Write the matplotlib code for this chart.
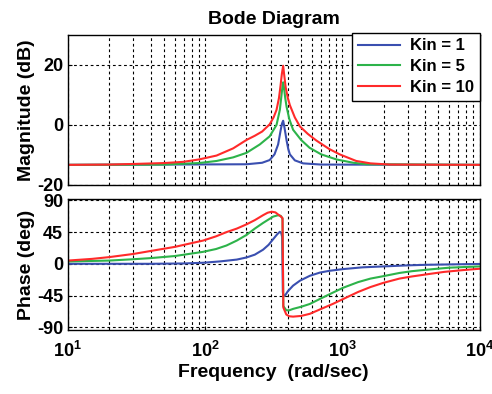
import matplotlib
matplotlib.use('Agg')
import matplotlib.pyplot as plt
from matplotlib.ticker import FixedLocator, FixedFormatter, LogLocator, NullFormatter

plt.rcParams['font.family'] = ['Liberation Sans', 'DejaVu Sans']
plt.rcParams['font.weight'] = 'bold'
plt.rcParams['axes.unicode_minus'] = False
plt.rcParams['mathtext.fontset'] = 'custom'
plt.rcParams['mathtext.rm'] = 'Liberation Sans:bold'
plt.rcParams['mathtext.bf'] = 'Liberation Sans:bold'

# magnitude curves (rad/sec, dB)
w_mag_1 = [10, 200, 260, 295, 320, 340, 354, 363, 370, 377, 385, 392, 403, 414, 450, 517, 700, 10000]
mag_1 = [-13.3, -13.1, -12.6, -11.7, -9.8, -6.5, -2.0, 0.5, 1.4, -0.5, -3.0, -5.2, -8.0, -9.8, -11.8, -12.8, -13.2, -13.3]

w_mag_5 = [10, 50, 90, 121, 160, 200, 250, 295, 331, 350, 360, 366, 370, 375, 383, 392, 410, 437,
           500, 576, 700, 906, 1200, 1500, 10000]
mag_5 = [-13.3, -13.2, -12.7, -12.0, -10.8, -9.3, -6.5, -3.8, 0.0, 5.0, 10.0, 13.0, 14.2, 12.5, 9.0, 6.0, 2.0, -1.6,
         -5.0, -7.6, -9.8, -11.5, -12.6, -13.1, -13.3]

w_mag_10 = [10, 20, 30, 50, 69, 90, 121, 160, 200, 230, 260, 295, 315, 331, 345, 354, 362, 370, 378, 386,
            400, 414, 450, 490, 560, 646, 800, 955, 1260, 1600, 2213, 10000]
mag_10 = [-13.3, -13.2, -13.0, -12.7, -12.3, -11.5, -10.2, -7.8, -5.0, -3.6, -2.2, 0.2, 2.5, 5.0, 9.0, 13.0, 17.0, 19.7, 16.0, 12.5,
          9.0, 6.6, 2.5, -0.5, -3.0, -5.2, -8.0, -9.8, -12.0, -12.8, -13.2, -13.3]

# phase curves (rad/sec, deg)
w_ph_1 = [10, 39.5, 70, 96.6, 130, 170, 200, 230, 264, 290, 313, 335, 350, 358, 364, 368, 372, 385, 400,
          437, 490, 579, 684, 800, 1012, 1400, 1990, 3000, 4090, 10000]
ph_1 = [0, 0, 0.5, 1.5, 3.5, 6, 9, 13, 20, 27, 35, 42, 45.5, 44, 38, -40, -46, -44, -39,
        -31, -24, -17, -12.5, -10, -7.5, -5, -3.7, -2.2, -1.4, -0.2]

w_ph_5 = [10, 20, 30, 39.5, 60, 96.6, 120, 143, 170, 200, 230, 264, 290, 313, 340, 356, 366, 371, 390, 410,
          437, 500, 579, 700, 850, 1012, 1300, 1600, 1990, 2600, 3200, 4090, 6000, 10000]
ph_5 = [3.3, 4.6, 6.5, 8, 11, 17, 21, 26, 33, 41, 50, 58, 63, 67, 69, 68, 64, -60, -66, -66,
        -64, -61, -57, -49, -41, -34, -26, -21, -17.5, -13, -10.5, -8.4, -5.5, -3.7]

w_ph_10 = [10, 15, 20, 30, 39.5, 60, 96.6, 120, 143, 170, 200, 230, 264, 285, 305, 325, 340, 352, 366, 371,
           390, 410, 437, 500, 579, 700, 850, 1012, 1300, 1600, 1990, 2600, 3200, 4090, 5500, 7500, 10000]
ph_10 = [4.6, 7, 9.5, 14, 18, 24, 33, 39, 45, 50, 56, 62, 69, 72.5, 74, 73, 70, 68, 65, -62,
         -72, -74.5, -75, -74, -71, -64, -57, -50, -40, -33, -27, -21, -18, -15, -11.5, -9, -7]

labels = ['Kin = 1', 'Kin = 5', 'Kin = 10']
colors = ['#3a4fb0', '#2db34a', '#ff2a2a']

fig = plt.figure(figsize=(4.92, 3.94), dpi=100)
ax1 = fig.add_axes([0.138, 0.5305, 0.837, 0.381])
ax2 = fig.add_axes([0.138, 0.1624, 0.837, 0.3325])

grid_kw = dict(color='black', linestyle=(0, (2.5, 2.5)), linewidth=0.8)

for w, m, c, lab in zip([w_mag_1, w_mag_5, w_mag_10], [mag_1, mag_5, mag_10], colors, labels):
    ax1.plot(w, m, color=c, lw=1.5, label=lab)
for w, p, c in zip([w_ph_1, w_ph_5, w_ph_10], [ph_1, ph_5, ph_10], colors):
    ax2.plot(w, p, color=c, lw=1.5)

for ax in (ax1, ax2):
    ax.set_xscale('log')
    ax.set_xlim(10, 1e4)
    ax.xaxis.set_major_locator(FixedLocator([10, 100, 1000, 10000]))
    ax.xaxis.set_minor_locator(LogLocator(base=10, subs=range(2, 10)))
    ax.xaxis.set_minor_formatter(NullFormatter())
    ax.grid(True, which='major', **grid_kw)
    ax.grid(True, which='minor', axis='x', **grid_kw)
    ax.tick_params(direction='in', labelsize=13, length=3)
    ax.tick_params(which='minor', length=0)
    for s in ax.spines.values():
        s.set_linewidth(1.0)
    ax.set_axisbelow(True)

ax1.set_ylim(-20, 30)
ax1.set_yticks([-20, 0, 20])
ax1.xaxis.set_major_formatter(NullFormatter())
ax1.set_ylabel('Magnitude (dB)', fontsize=14, fontweight='bold', labelpad=1)
ax1.set_title('Bode Diagram', fontsize=14, fontweight='bold', pad=8)
leg = ax1.legend(loc='upper right', fontsize=12, handlelength=2.5, borderaxespad=0.0,
                 frameon=True, fancybox=False, edgecolor='black', framealpha=1,
                 labelspacing=0.35, borderpad=0.35, handletextpad=0.6,
                 bbox_to_anchor=(1.0, 1.015))
leg.get_frame().set_linewidth(1.0)

ax2.set_ylim(-94, 92)
ax2.set_yticks([-90, -45, 0, 45, 90])
ax2.xaxis.set_major_formatter(FixedFormatter([r'$10^{1}$', r'$10^{2}$', r'$10^{3}$', r'$10^{4}$']))
ax2.tick_params(axis='x', pad=8)
ax2.set_ylabel('Phase (deg)', fontsize=14, fontweight='bold', labelpad=1)
ax2.set_xlabel('Frequency  (rad/sec)', fontsize=14, fontweight='bold', labelpad=2)

fig.savefig('out.png', dpi=100)
